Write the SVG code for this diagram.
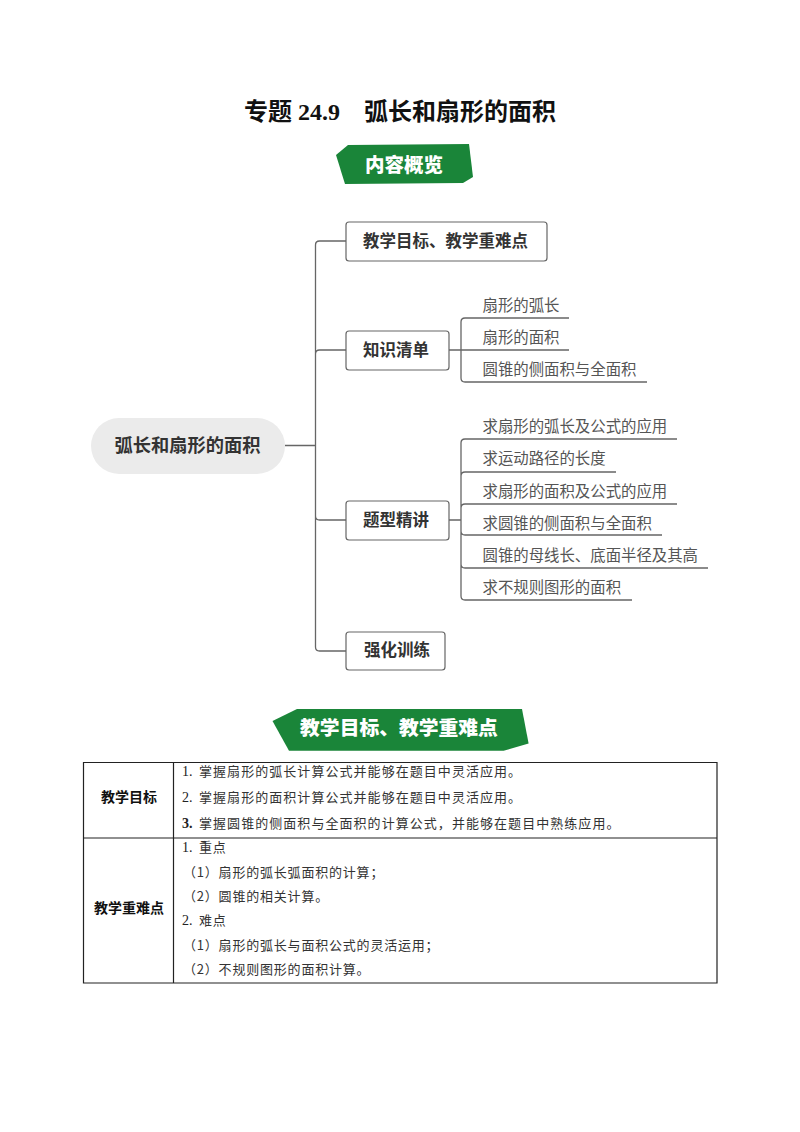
<svg xmlns="http://www.w3.org/2000/svg" width="800" height="1132" viewBox="0 0 800 1132">
<style>
text{font-family:"Noto Sans CJK SC","Noto Sans",sans-serif}
.title{font-family:"Liberation Serif","Noto Sans CJK SC",serif;font-size:24px;font-weight:700;fill:#111}
.ban{font-size:19.5px;font-weight:900;fill:#fff;text-anchor:middle}
.banpoly{fill:#1a8539}
.box{fill:#fff;stroke:#666;stroke-width:1.2}
.nl{font-size:16.5px;font-weight:700;fill:#333}
.leaf{font-size:15.4px;fill:#555}
.conn{fill:none;stroke:#666;stroke-width:1.3}
.grid{fill:none;stroke:#222;stroke-width:1.2}
.th{font-size:14px;font-weight:700;fill:#111;text-anchor:middle}
.td{font-size:13px;letter-spacing:.8px;fill:#333}
.wide{letter-spacing:1.05px}
.num{font-family:"Liberation Serif",serif;font-size:14px;fill:#222}
</style>
<rect width="800" height="1132" fill="#fff"/>
<text id="title" class="title" x="244" y="120">专题 24.9</text>
<text class="title" x="364" y="120" style="font-family:'Noto Sans CJK SC',sans-serif">弧长和扇形的面积</text>
<g id="banner-overview">
<polygon class="banpoly" points="336,155 348,145 469,144 473,177 463,183 345,184"/>
<text class="ban" x="404" y="172">内容概览</text>
</g>
<g id="connectors">
<path class="conn" d="M285 445.5H315.5M346 241H319.5Q315.5 241 315.5 245V647Q315.5 651 319.5 651H346M315.5 354Q315.5 350 319.5 350H346M315.5 516Q315.5 520 319.5 520H346"/>
<path class="conn" d="M449 350H569M569 318H465Q461 318 461 322V378Q461 382 465 382H647"/>
<path class="conn" d="M449 520H461M677 439H465Q461 439 461 443V596Q461 600 465 600H632M616 472H465Q461 472 461 476M677 504H465Q461 504 461 508V531Q461 535 465 535H662M708 568H465Q461 568 461 564"/>
</g>
<g id="root">
<rect x="91" y="418" width="194" height="56" rx="28" fill="#ebebeb"/>
<text x="114.5" y="452" font-size="18.25" font-weight="700" fill="#333">弧长和扇形的面积</text>
</g>
<g id="n1"><rect class="box" x="346" y="222" width="201" height="39" rx="3"/><text class="nl" x="363" y="247">教学目标、教学重难点</text></g>
<g id="n2"><rect class="box" x="346" y="331" width="103" height="39" rx="3"/><text class="nl" x="363" y="356">知识清单</text></g>
<g id="n3"><rect class="box" x="346" y="501" width="103" height="39" rx="3"/><text class="nl" x="363" y="526">题型精讲</text></g>
<g id="n4"><rect class="box" x="346" y="632" width="99" height="38" rx="3"/><text class="nl" x="364" y="656">强化训练</text></g>
<g id="leaves">
<text class="leaf" x="482.5" y="311">扇形的弧长</text>
<text class="leaf" x="482.5" y="343">扇形的面积</text>
<text class="leaf" x="482.5" y="375">圆锥的侧面积与全面积</text>
<text class="leaf" x="482.5" y="432">求扇形的弧长及公式的应用</text>
<text class="leaf" x="482.5" y="464">求运动路径的长度</text>
<text class="leaf" x="482.5" y="497">求扇形的面积及公式的应用</text>
<text class="leaf" x="482.5" y="529">求圆锥的侧面积与全面积</text>
<text class="leaf" x="482.5" y="561">圆锥的母线长、底面半径及其高</text>
<text class="leaf" x="482.5" y="593">求不规则图形的面积</text>
</g>
<g id="banner-goals">
<polygon class="banpoly" points="272.5,721 297,709 522,709 528.6,743.6 503.6,750.7 289,750.7"/>
<text class="ban" x="399" y="735" style="font-size:19.8px">教学目标、教学重难点</text>
</g>
<g id="table">
<path class="grid" d="M83.5 762.5H717V983H83.5ZM173.5 762.5V983M83.5 838H717"/>
<text class="th" x="129" y="802">教学目标</text>
<text class="th" x="129" y="913">教学重难点</text>
<text class="num" x="182" y="776">1.</text><text class="td wide" x="199" y="776">掌握扇形的弧长计算公式并能够在题目中灵活应用。</text>
<text class="num" x="182" y="802">2.</text><text class="td wide" x="199" y="802">掌握扇形的面积计算公式并能够在题目中灵活应用。</text>
<text class="num" x="182" y="828" font-weight="700">3.</text><text class="td wide" x="199" y="828">掌握圆锥的侧面积与全面积的计算公式，并能够在题目中熟练应用。</text>
<text class="num" x="182" y="852">1.</text><text class="td" x="199" y="852">重点</text>
<text class="td" x="183" y="877">（1）扇形的弧长弧面积的计算；</text>
<text class="td" x="183" y="901">（2）圆锥的相关计算。</text>
<text class="num" x="182" y="925">2.</text><text class="td" x="199" y="925">难点</text>
<text class="td" x="183" y="950">（1）扇形的弧长与面积公式的灵活运用；</text>
<text class="td" x="183" y="974">（2）不规则图形的面积计算。</text>
</g>
</svg>
